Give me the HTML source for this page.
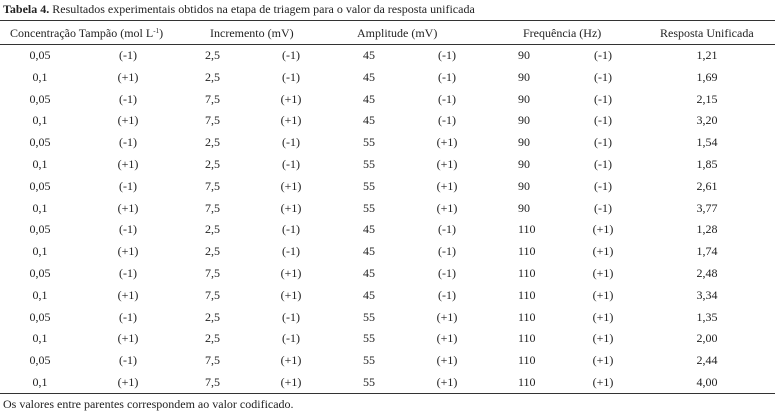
<!DOCTYPE html>
<html><head><meta charset="utf-8"><style>
body{margin:0;width:775px;height:412px;background:#fff;position:relative;overflow:hidden;font-family:"Liberation Serif",serif;font-size:12px;color:#222}
.t{position:absolute;white-space:nowrap;line-height:14px}
.c{transform:translateX(-50%)}
.l{position:absolute;left:0;width:775px;height:1px;background:#333}
sup{font-size:7px;line-height:0;vertical-align:4px}
</style></head><body>
<div class="t" style="left:3px;top:2px;font-size:12px"><b>Tabela 4.</b> Resultados experimentais obtidos na etapa de triagem para o valor da resposta unificada</div>
<div class="l" style="top:20px"></div>
<div class="t" style="left:10px;top:26px">Concentração Tampão (mol L<sup>-1</sup>)</div>
<div class="t" style="left:210px;top:26px">Incremento (mV)</div>
<div class="t" style="left:357px;top:26px">Amplitude (mV)</div>
<div class="t" style="left:523px;top:26px">Frequência (Hz)</div>
<div class="t" style="left:660px;top:26px">Resposta Unificada</div>
<div class="l" style="top:44px"></div>
<div id="rows"></div>
<div class="l" style="top:393px"></div>
<div class="t" style="left:3px;top:397px">Os valores entre parentes correspondem ao valor codificado.</div>
<script>
var d=[["0,05","(-1)","2,5","(-1)","45","(-1)","90","(-1)","1,21"],
["0,1","(+1)","2,5","(-1)","45","(-1)","90","(-1)","1,69"],
["0,05","(-1)","7,5","(+1)","45","(-1)","90","(-1)","2,15"],
["0,1","(+1)","7,5","(+1)","45","(-1)","90","(-1)","3,20"],
["0,05","(-1)","2,5","(-1)","55","(+1)","90","(-1)","1,54"],
["0,1","(+1)","2,5","(-1)","55","(+1)","90","(-1)","1,85"],
["0,05","(-1)","7,5","(+1)","55","(+1)","90","(-1)","2,61"],
["0,1","(+1)","7,5","(+1)","55","(+1)","90","(-1)","3,77"],
["0,05","(-1)","2,5","(-1)","45","(-1)","110","(+1)","1,28"],
["0,1","(+1)","2,5","(-1)","45","(-1)","110","(+1)","1,74"],
["0,05","(-1)","7,5","(+1)","45","(-1)","110","(+1)","2,48"],
["0,1","(+1)","7,5","(+1)","45","(-1)","110","(+1)","3,34"],
["0,05","(-1)","2,5","(-1)","55","(+1)","110","(+1)","1,35"],
["0,1","(+1)","2,5","(-1)","55","(+1)","110","(+1)","2,00"],
["0,05","(-1)","7,5","(+1)","55","(+1)","110","(+1)","2,44"],
["0,1","(+1)","7,5","(+1)","55","(+1)","110","(+1)","4,00"]];
var xs=[[40,1],[128,1],[205,0],[291,1],[363,0],[447,1],[518,0],[603,1],[707,1]];
var h="";
d.forEach(function(r,i){var y=48+i*21.8;r.forEach(function(v,j){h+='<div class="t'+(xs[j][1]?' c':'')+'" style="left:'+xs[j][0]+'px;top:'+y+'px">'+v+'</div>';});});
document.getElementById("rows").innerHTML=h;
</script>
</body></html>
